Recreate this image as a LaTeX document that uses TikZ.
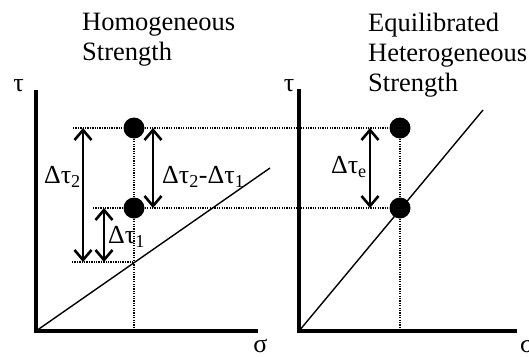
\documentclass[tikz,border=0pt]{standalone}
\usepackage{fontspec}
\setmainfont{Liberation Serif}
\usetikzlibrary{arrows.meta}
\tikzset{
  tengely/.style={line width=4pt},
  egyenes/.style={line width=1.4pt},
  pontozott/.style={line width=1.3pt,dash pattern=on 1.3pt off 1.1pt},
  pont/.style={circle,fill,inner sep=0pt,minimum size=21pt},
  ketnyil/.style={{Straight Barb[length=10pt,width=17pt]}-{Straight Barb[length=10pt,width=17pt]},line width=2.6pt},
  cimke/.style={font=\fontsize{26}{30}\selectfont,inner sep=0pt},
  cim/.style={font=\fontsize{26.5}{30}\selectfont,align=left,inner sep=0pt},
}
\begin{document}
\begin{tikzpicture}[x=1pt,y=-1pt]
  \useasboundingbox (0,0) rectangle (529,356);
  % homogeneous strength
  \node[cim,anchor=north west] (cimH) at (82,13) {Homogeneous\\Strength};
  \coordinate (O1) at (36,331);
  \draw[tengely] (36,90) -- (O1) -- (258,331);
  \node[cimke] (tau1) at (18.5,86) {τ};
  \node[cimke] (sig1) at (260.5,346) {σ};
  \draw[egyenes] (O1) -- (270,168);
  \node[pont] (A2) at (134,128) {};
  \node[pont] (A1) at (134,208) {};
  \coordinate (A0) at (134,262);
  \coordinate (A1x) at (134,331);
  % equilibrated heterogeneous strength
  \node[cim,anchor=north west] (cimE) at (368,13) {Equilibrated\\Heterogeneous\\Strength};
  \coordinate (O2) at (299,331);
  \draw[tengely] (299,89) -- (O2) -- (517,331);
  \node[cimke] (tau2) at (289,86) {τ};
  \node[cimke] (sig2) at (527,346) {σ};
  \draw[egyenes] (O2) -- (483,110);
  \node[pont] (B2) at (400,128) {};
  \node[pont] (B1) at (400,208) {};
  \coordinate (B1x) at (400,331);
  % dotted lines
  \coordinate (h2) at (73,128);
  \coordinate (h1) at (93,208);
  \coordinate (h0) at (72,262);
  \draw[pontozott] (h2) -- (A2) -- (B2);
  \draw[pontozott] (h1) -- (A1) -- (B1);
  \draw[pontozott] (h0) -- (A0);
  \draw[pontozott] (A2) -- (A1) -- (A1x);
  \draw[pontozott] (B2) -- (B1) -- (B1x);
  % arrows
  \draw[ketnyil] (83,128) -- (83,262);
  \draw[ketnyil] (104,208) -- (104,262);
  \draw[ketnyil] (153,128) -- (153,208);
  \draw[ketnyil] (370,128) -- (370,208);
  \node[cimke,anchor=east] (d2) at (81,177) {Δτ\textsubscript{2}};
  \node[cimke,anchor=west] (d1) at (108,237) {Δτ\textsubscript{1}};
  \node[cimke,anchor=west] (d21) at (162,177) {Δτ\textsubscript{2}-Δτ\textsubscript{1}};
  \node[cimke,anchor=east] (de) at (367,167) {Δτ\textsubscript{e}};
\end{tikzpicture}
\end{document}
